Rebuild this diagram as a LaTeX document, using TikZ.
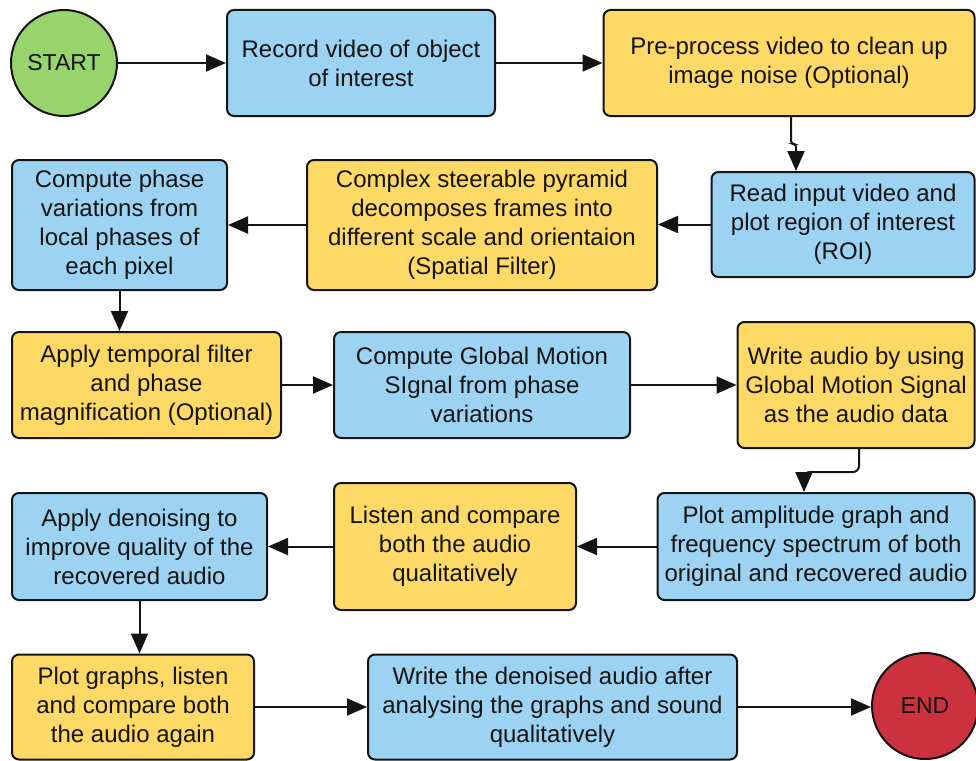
\documentclass[tikz,border=0pt]{standalone}
\usepackage{fontspec}
\setmainfont{Liberation Sans}
\usetikzlibrary{arrows.meta,calc}

\definecolor{boxblue}{RGB}{157,211,242}
\definecolor{boxyellow}{RGB}{255,217,102}
\definecolor{startgreen}{RGB}{152,212,108}
\definecolor{endred}{RGB}{204,50,62}
\definecolor{ink}{RGB}{20,20,20}

\tikzset{
  x=1pt, y=-1pt,
  proc/.style={draw=ink, line width=2pt, rounded corners=7pt, align=center,
    inner sep=0pt, text=ink, font=\fontsize{24}{29}\selectfont},
  pblue/.style={proc, fill=boxblue},
  pyellow/.style={proc, fill=boxyellow},
  term/.style={circle, draw=ink, line width=2pt, minimum size=106pt, inner sep=0pt,
    text=ink, font=\fontsize{23}{27}\selectfont},
  flow/.style={draw=ink, line width=2pt, -{Triangle[length=20pt,width=17pt]}},
}

\begin{document}
\begin{tikzpicture}
\useasboundingbox (0,0) rectangle (976,760);

% terminals
\node[term, fill=startgreen] (start) at (64,63) {START};
\node[term, fill=endred] (end) at (925,706) {END};

% row 1
\node[pblue, minimum width=268pt, minimum height=106pt] (b1) at (361,63)
  {Record video of object\\of interest};
\node[pyellow, minimum width=371pt, minimum height=106pt] (b2) at (789,63)
  {Pre-process video to clean up\\image noise (Optional)};

% row 2
\node[pblue, minimum width=263pt, minimum height=105pt] (b3) at (843,224.5)
  {Read input video and\\plot region of interest\\(ROI)};
\node[pyellow, minimum width=350pt, minimum height=130pt] (b4) at (482,225)
  {Complex steerable pyramid\\decomposes frames into\\different scale and orientaion\\(Spatial Filter)};
\node[pblue, minimum width=215pt, minimum height=130pt] (b5) at (119.5,225)
  {Compute phase\\variations from\\local phases of\\each pixel};

% row 3
\node[pyellow, minimum width=269pt, minimum height=106pt] (b6) at (146.5,385)
  {Apply temporal filter\\and phase\\magnification (Optional)};
\node[pblue, minimum width=296pt, minimum height=106pt] (b7) at (482,385)
  {Compute Global Motion\\SIgnal from phase\\variations};
\node[pyellow, minimum width=237pt, minimum height=126pt] (b8) at (856,385)
  {Write audio by using\\Global Motion Signal\\as the audio data};

% row 4
\node[pblue, minimum width=317pt, minimum height=107pt] (b9) at (816,546.5)
  {Plot amplitude graph and\\frequency spectrum of both\\original and recovered audio};
\node[pyellow, minimum width=242pt, minimum height=127pt] (b10) at (455,546.5)
  {Listen and compare\\both the audio\\qualitatively};
\node[pblue, minimum width=255pt, minimum height=107pt] (b11) at (139.5,546.5)
  {Apply denoising to\\improve quality of the\\recovered audio};

% row 5
\node[pyellow, minimum width=242pt, minimum height=105pt] (b12) at (133,707)
  {Plot graphs, listen\\and compare both\\the audio again};
\node[pblue, minimum width=369pt, minimum height=105pt] (b13) at (552.5,707)
  {Write the denoised audio after\\analysing the graphs and sound\\qualitatively};

% connectors
\draw[flow] (start.east) -- (start.east -| b1.west);
\draw[flow] (b1.east) -- (b1.east -| b2.west);
\draw[flow, rounded corners=3pt] ($(b2.south)+(2,0)$) -- ++(0,27) -- ++(5,0)
  -- ($(b3.north)+(-47,0)$);
\draw[flow] (b3.west) -- (b3.west -| b4.east);
\draw[flow] (b4.west) -- (b4.west -| b5.east);
\draw[flow] (b5.south) -- (b5.south |- b6.north);
\draw[flow] (b6.east) -- (b6.east -| b7.west);
\draw[flow] (b7.east) -- (b7.east -| b8.west);
\draw[flow, rounded corners=6pt] ($(b8.south)+(3,0)$) -- ++(0,23) -- ++(-55,0)
  -- ($(b9.north)+(-12,0)$);
\draw[flow] (b9.west) -- (b9.west -| b10.east);
\draw[flow] (b10.west) -- (b10.west -| b11.east);
\draw[flow] (b11.south) -- (b11.south |- b12.north);
\draw[flow] (b12.east) -- (b12.east -| b13.west);
\draw[flow] (b13.east) -- (b13.east -| end.west);
\end{tikzpicture}
\end{document}
